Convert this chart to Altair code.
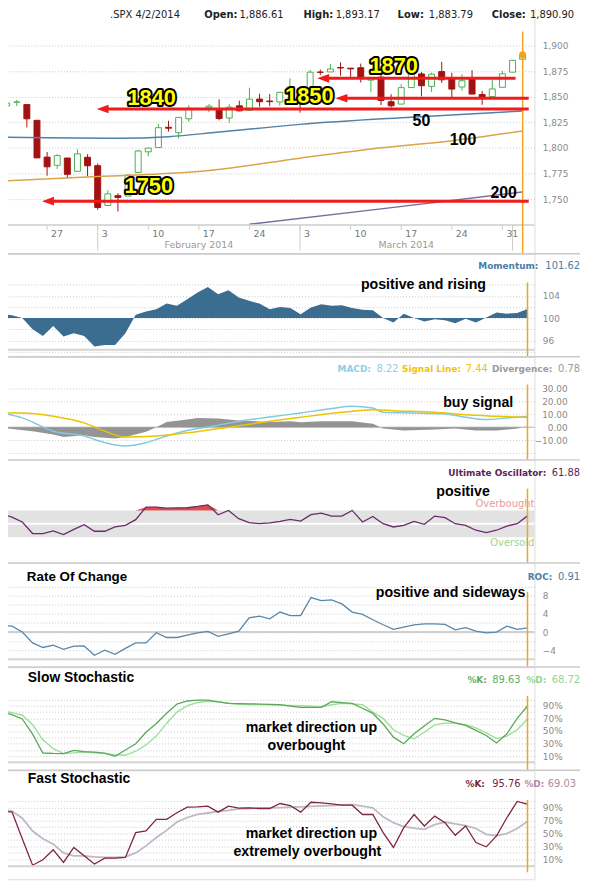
import altair as alt
import numpy as np
import pandas as pd

# ------------------------------------------------------------------ data
trade_dates = [
    "2014-01-21", "2014-01-22", "2014-01-23", "2014-01-24", "2014-01-27", "2014-01-28",
    "2014-01-29", "2014-01-30", "2014-01-31", "2014-02-03", "2014-02-04", "2014-02-05",
    "2014-02-06", "2014-02-07", "2014-02-10", "2014-02-11", "2014-02-12", "2014-02-13",
    "2014-02-14", "2014-02-18", "2014-02-19", "2014-02-20", "2014-02-21", "2014-02-24",
    "2014-02-25", "2014-02-26", "2014-02-27", "2014-02-28", "2014-03-03", "2014-03-04",
    "2014-03-05", "2014-03-06", "2014-03-07", "2014-03-10", "2014-03-11", "2014-03-12",
    "2014-03-13", "2014-03-14", "2014-03-17", "2014-03-18", "2014-03-19", "2014-03-20",
    "2014-03-21", "2014-03-24", "2014-03-25", "2014-03-26", "2014-03-27", "2014-03-28",
    "2014-03-31", "2014-04-01", "2014-04-02",
]
opens = [1841.05, 1844.71, 1842.29, 1826.96, 1791.03, 1783.00, 1790.15, 1777.17, 1790.88,
         1782.68, 1743.82, 1753.38, 1752.99, 1776.01, 1796.20, 1800.45, 1820.12, 1814.82,
         1828.46, 1839.03, 1838.22, 1829.24, 1841.07, 1836.78, 1847.66, 1845.79, 1844.90,
         1855.12, 1857.68, 1849.23, 1874.05, 1874.18, 1878.52, 1877.86, 1878.26, 1866.15,
         1869.06, 1845.07, 1842.81, 1858.92, 1872.25, 1860.09, 1874.53, 1867.67, 1859.48,
         1867.09, 1852.11, 1850.07, 1859.16, 1873.96, 1886.61]
highs = [1849.31, 1846.87, 1842.29, 1826.96, 1795.98, 1793.87, 1790.15, 1798.77, 1793.88,
         1784.83, 1758.73, 1755.79, 1774.06, 1798.03, 1799.94, 1823.54, 1826.55, 1830.25,
         1841.65, 1842.87, 1847.50, 1842.79, 1846.13, 1858.71, 1852.91, 1852.65, 1854.53,
         1867.92, 1857.68, 1876.23, 1876.53, 1881.94, 1883.57, 1877.87, 1882.35, 1868.38,
         1874.40, 1852.44, 1862.30, 1873.76, 1874.14, 1873.49, 1883.97, 1873.34, 1871.87,
         1875.92, 1855.55, 1866.63, 1875.18, 1885.84, 1893.17]
lows = [1832.38, 1840.88, 1820.06, 1790.29, 1772.88, 1779.49, 1770.45, 1777.17, 1772.26,
        1739.66, 1743.82, 1737.92, 1752.99, 1776.01, 1791.83, 1800.41, 1815.97, 1809.22,
        1825.59, 1835.01, 1826.99, 1824.58, 1835.60, 1836.78, 1840.19, 1840.66, 1841.13,
        1847.67, 1834.44, 1849.23, 1871.11, 1874.18, 1870.56, 1867.04, 1863.88, 1854.38,
        1841.86, 1839.57, 1842.81, 1858.92, 1850.35, 1854.63, 1863.46, 1849.69, 1855.96,
        1852.56, 1842.11, 1850.07, 1859.16, 1873.96, 1883.79]
closes = [1843.80, 1844.86, 1828.46, 1790.29, 1781.56, 1792.50, 1774.20, 1794.19, 1782.59,
          1741.89, 1755.20, 1751.64, 1773.43, 1797.02, 1799.84, 1819.75, 1819.26, 1829.83,
          1838.63, 1840.76, 1828.75, 1839.78, 1836.25, 1847.61, 1845.12, 1845.16, 1854.29,
          1859.45, 1845.73, 1873.91, 1873.81, 1877.03, 1878.04, 1877.17, 1867.63, 1868.20,
          1846.34, 1841.13, 1858.83, 1872.25, 1860.77, 1872.01, 1866.52, 1857.44, 1865.62,
          1852.56, 1849.04, 1857.62, 1872.34, 1885.52, 1890.90]

# moving averages
ma50_dates = ["2014-01-21", "2014-01-27", "2014-02-05", "2014-02-12", "2014-02-19",
              "2014-03-03", "2014-03-18", "2014-04-02"]
ma50 = [1810.5, 1810.0, 1809.5, 1811.0, 1815.5, 1823.0, 1830.0, 1836.0]
ma100_dates = ["2014-01-21", "2014-02-03", "2014-02-18", "2014-03-03", "2014-03-12",
               "2014-03-24", "2014-04-02"]
ma100 = [1768.0, 1772.0, 1778.0, 1790.0, 1799.0, 1807.0, 1816.5]
ma200_dates = ["2014-02-24", "2014-03-13", "2014-04-02"]
ma200 = [1725.5, 1740.5, 1757.0]

# weekday positions Jan 21 .. Apr 2 (52 slots)
day_dates = pd.bdate_range("2014-01-21", "2014-04-02").strftime("%Y-%m-%d").tolist()
momentum = [100.8, 100.5, 100.0, 98.0, 96.8, 98.6, 96.7, 97.3, 96.8, 94.9, 95.2, 95.2, 97.3,
            100.6, 101.2, 101.6, 102.6, 102.2, 103.4, 104.6, 105.6, 104.3, 105.0, 103.7,
            103.1, 102.6, 101.6, 102.0, 101.8, 100.7, 101.9, 102.5, 102.2, 102.3, 101.8,
            101.5, 101.4, 100.0, 99.2, 100.8, 100.0, 99.4, 99.8, 99.6, 99.1, 99.9, 99.2,
            100.1, 101.0, 100.8, 100.9, 101.62]
ult_osc = [65.1, 60.0, 52.7, 35.5, 35.5, 39.4, 34.0, 41.6, 48.8, 38.9, 38.9, 45.3, 47.8,
           56.2, 74.9, 74.9, 73.4, 73.8, 74.0, 76.0, 78.4, 63.6, 70.0, 57.7, 51.8, 50.2,
           51.3, 53.7, 56.7, 54.2, 63.6, 66.1, 61.6, 61.6, 70.0, 52.7, 61.1, 50.2, 45.3,
           47.8, 53.7, 49.3, 61.6, 59.1, 50.2, 47.8, 40.4, 37.0, 40.4, 46.7, 50.2, 61.88]
roc = [1.5, 1.3, 0.0, -2.4, -3.4, -2.9, -3.8, -3.1, -3.05, -5.1, -4.0, -4.9, -3.6, -2.4,
       -2.4, -0.15, -1.2, -1.2, -0.7, -0.2, 0.15, -0.95, -0.4, 0.2, 3.1, 3.5, 2.9, 4.4, 3.6,
       3.6, 7.6, 6.9, 7.1, 6.2, 4.4, 3.9, 2.7, 1.6, 0.6, 1.1, 1.6, 1.8, 1.8, 1.7, 0.5, 0.95,
       0.2, -0.2, 0.0, 1.3, 0.6, 0.91]
slow_k = [80, 76, 69, 45, 15.2, 14.5, 14.2, 19.4, 17.5, 16.5, 15.2, 10, 20, 29.9, 48, 62,
          78, 92.6, 97.5, 98.9, 99, 96, 93.7, 93.3, 93, 92.7, 92.3, 91.6, 89.5, 87.4, 87.4,
          87.4, 96.3, 95, 93.7, 86, 78, 61.2, 40.3, 29.9, 45.6, 58, 70.1, 67.5, 63, 59, 51,
          43, 31, 45.6, 70, 89.63]
slow_d = [82, 79, 75, 60, 36.1, 22, 14.2, 15.5, 16.8, 15.5, 14.2, 12.5, 11.6, 18, 28, 42,
          62, 80, 90, 95.2, 97, 96.5, 94, 92.4, 92, 91.7, 91.4, 91, 90.5, 90, 89.2, 88.4,
          91.5, 93.7, 93, 91.6, 80, 70, 52, 43, 37.7, 48, 59.7, 62.5, 62.5, 60, 55, 47, 38,
          42, 52, 68.72]
fast_k = [83.8, 83.8, 42, 1, 9.5, 24.9, 5.4, 28.5, 15.6, 2.8, 12, 12, 13, 51.5, 54.1, 72.1,
          72.1, 82.3, 91, 91.5, 92.6, 83.3, 92.6, 89.5, 90, 89, 89, 96.7, 93.6, 83.3, 98.7,
          97.7, 96.2, 94.1, 94.1, 79.7, 79.7, 51.5, 28.5, 59.2, 79.7, 61.8, 77.2, 66.9,
          47.4, 61.8, 36.2, 29.5, 46.4, 74.6, 100, 95.76]
fast_d = [88, 85, 74, 54.1, 42, 33.6, 20, 15.6, 15.6, 14, 13, 13, 14, 20, 31, 44, 55, 68,
          75, 79.7, 82, 84.5, 86, 88.3, 89, 89.7, 90.1, 90.5, 91, 91.5, 92.2, 92.9, 93.6,
          94.6, 95, 92.5, 90, 76, 67, 61, 58.5, 56.7, 64, 68, 65, 62.5, 58, 49, 47, 50, 58,
          69.03]

macd_dates = ["2014-01-21", "2014-01-23", "2014-01-28", "2014-01-31", "2014-02-04",
              "2014-02-06", "2014-02-10", "2014-02-12", "2014-02-14", "2014-02-19",
              "2014-02-21", "2014-02-26", "2014-03-03", "2014-03-06", "2014-03-10",
              "2014-03-12", "2014-03-13", "2014-03-18", "2014-03-21", "2014-03-25",
              "2014-03-27", "2014-03-31", "2014-04-02"]
macd = [11.0, 7.2, -3.1, -6.9, -12.0, -14.6, -12.0, -6.9, -2.6, 1.5, 4.6, 7.9, 11.0, 14.4,
        16.2, 14.9, 11.5, 11.0, 10.3, 7.7, 5.9, 7.2, 8.22]
signal_dates = ["2014-01-21", "2014-01-23", "2014-01-28", "2014-01-31", "2014-02-04",
                "2014-02-06", "2014-02-11", "2014-02-14", "2014-02-20", "2014-02-26",
                "2014-03-03", "2014-03-07", "2014-03-12", "2014-03-14", "2014-03-20",
                "2014-03-25", "2014-03-28", "2014-04-02"]
signal = [11.0, 11.0, 8.5, 3.3, -3.1, -7.7, -6.9, -4.4, 0.0, 4.6, 7.7, 11.5, 13.6, 12.8,
          11.5, 9.7, 8.5, 7.44]
div_dates = ["2014-01-21", "2014-01-24", "2014-01-28", "2014-01-29", "2014-01-31",
             "2014-02-03", "2014-02-05", "2014-02-06", "2014-02-10", "2014-02-11",
             "2014-02-12", "2014-02-14", "2014-02-17", "2014-02-19", "2014-02-21",
             "2014-02-26", "2014-02-28", "2014-03-03", "2014-03-05", "2014-03-10",
             "2014-03-12", "2014-03-13", "2014-03-17", "2014-03-20", "2014-03-24",
             "2014-03-26", "2014-03-28", "2014-04-01", "2014-04-02"]
divergence = [-0.4, -3.1, -5.6, -7.7, -6.2, -7.7, -8.7, -7.7, -3.6, 0.0, 4.1, 5.9, 7.2,
              6.7, 5.1, 4.1, 4.6, 3.8, 4.6, 4.6, 2.6, -1.0, -2.6, -1.8, -1.0, -2.6, -2.6,
              -1.0, 0.78]

week_ticks = ["2014-01-27", "2014-02-03", "2014-02-10", "2014-02-17", "2014-02-24",
              "2014-03-03", "2014-03-10", "2014-03-17", "2014-03-24", "2014-03-31"]
month_starts = ["2014-02-03", "2014-03-03", "2014-04-01"]
month_names = ["February 2014", "March 2014"]

# support / resistance arrows (price level, from / to in trading-day units)
arrow_levels = [1868.0, 1848.5, 1838.0, 1748.0]
arrow_from = [21.7, 23.5, -0.1, -5.5]
arrow_to = [41.3, 42.6, 42.6, 42.6]

assert len(trade_dates) == len(opens) == len(highs) == len(lows) == len(closes) == 51
for s in (momentum, ult_osc, roc, slow_k, slow_d, fast_k, fast_d):
    assert len(s) == len(day_dates) == 52

# ------------------------------------------------------------------ helpers
SANS = "DejaVu Sans, Verdana, sans-serif"
HEAVY = "Liberation Sans, Arial, sans-serif"
GREEN = "#4caf50"
RED = "#a31212"
ORANGE = "#f5a31a"
ARROW = "#ee1c1c"
W = 537
XS = alt.Scale(domain=[-8.962, 42.673], nice=False, zero=False)
ONE = pd.DataFrame({"k": [0]})


def slot(dates):
    d = pd.to_datetime(pd.Series(dates)).values.astype("datetime64[D]")
    return np.busday_count(np.datetime64("2014-02-03"), d)


def X(field="slot"):
    return alt.X(f"{field}:Q", scale=XS, axis=None)


AX = dict(orient="right", grid=True, gridDash=[1, 2], gridColor="#c8c8c8", domain=False,
          ticks=False, tickSize=0, labelFont=SANS, labelFontSize=9,
          labelColor="#8a8a8a", labelBaseline="middle",
          labelFlush=False, labelOverlap=False, labelBound=False, title="")


def txt(s, x, y, size=10, color="#000", weight="normal", align="left", font=SANS, **kw):
    return alt.Chart(ONE).mark_text(text=s, fontSize=size, color=color, fontWeight=weight,
                                    align=align, baseline="middle", font=font, **kw
                                    ).encode(x=alt.value(x), y=alt.value(y))


def hrule(y, x0=0, x1=W, color="#cccccc", width=1.5):
    return alt.Chart(ONE).mark_rule(color=color, strokeWidth=width).encode(
        x=alt.value(x0), x2=alt.value(x1), y=alt.value(y))


def outlined(s, x, y, size=22):
    return [txt(s, x, y, size=size, color="#000", weight="bold", align="center", font=HEAVY,
                stroke="#000", strokeWidth=4, strokeJoin="round"),
            txt(s, x, y, size=size, color="#ffff00", weight="bold", align="center", font=HEAVY)]


def series(dates, vals):
    df = pd.DataFrame({"date": dates, "v": vals})
    df["slot"] = slot(df["date"])
    return df


# ------------------------------------------------------------------ price panel
cdf = pd.DataFrame({"date": trade_dates, "open": opens, "high": highs, "low": lows,
                    "close": closes})
cdf["slot"] = slot(cdf["date"])
cdf["dir"] = np.where(cdf["close"] >= cdf["open"], "up", "down")
last_c = cdf.tail(1)
YP = alt.Scale(domain=[1696.77, 1939.68], nice=False, zero=False)
PAX = alt.Axis(values=[1750, 1775, 1800, 1825, 1850, 1875, 1900], format=",d",
               labelAlign="left", labelPadding=8, **AX)


def YPr(field):
    return alt.Y(f"{field}:Q", scale=YP, axis=PAX)


wicks = alt.Chart(cdf).mark_rule(strokeWidth=1, clip=True).encode(
    x=X(), y=YPr("low"), y2="high:Q",
    color=alt.Color("dir:N", scale=alt.Scale(domain=["up", "down"], range=[GREEN, RED]),
                    legend=None))
bodies = alt.Chart(cdf).mark_bar(size=6, strokeWidth=1, clip=True).encode(
    x=X(), y=YPr("open"), y2="close:Q",
    fill=alt.Fill("dir:N", scale=alt.Scale(domain=["up", "down"], range=["#ffffff", RED]),
                  legend=None),
    stroke=alt.Stroke("dir:N", scale=alt.Scale(domain=["up", "down"], range=[GREEN, RED]),
                      legend=None))


def ma_line(dates, vals, color):
    return alt.Chart(series(dates, vals)).mark_line(
        color=color, strokeWidth=1.5, interpolate="monotone", clip=True).encode(
        x=X(), y=YPr("v"))


adf = pd.DataFrame({"level": arrow_levels, "start": arrow_from, "end": arrow_to})
adf["line_start"] = adf["start"] + 0.8
arrow_lines = alt.Chart(adf).mark_rule(color=ARROW, strokeWidth=3).encode(
    x=alt.X("line_start:Q", scale=XS, axis=None), x2="end:Q", y=YPr("level"))
arrow_heads = alt.Chart(adf).mark_point(shape="M0,0L3,-1.1L3,1.1Z", filled=True, size=64,
                                        color=ARROW, opacity=1, strokeWidth=0).encode(
    x=alt.X("start:Q", scale=XS, axis=None), y=YPr("level"))

tdf = pd.DataFrame({"date": week_ticks})
tdf["slot"] = slot(tdf["date"])
tdf["label"] = pd.to_datetime(tdf["date"]).dt.day.astype(str)
mdf = pd.DataFrame({"date": month_starts})
mdf["slot"] = slot(mdf["date"])
mlab = pd.DataFrame({"name": month_names,
                     "slot": (mdf["slot"].values[:-1] + mdf["slot"].values[1:]) / 2})

x_ticks = alt.Chart(tdf).mark_rule(color="#cccccc").encode(
    x=X(), y=alt.value(222), y2=alt.value(227))
x_labels = alt.Chart(tdf).mark_text(align="left", dx=4, baseline="middle", font=SANS,
                                    fontSize=9.5, color="#777777").encode(
    x=X(), y=alt.value(231), text="label:N")
m_ticks = alt.Chart(mdf).mark_rule(color="#cccccc").encode(
    x=X(), y=alt.value(222), y2=alt.value(248))
m_labels = alt.Chart(mlab).mark_text(align="center", baseline="middle", font=SANS,
                                     fontSize=9.5, color="#999999").encode(
    x=X(), y=alt.value(242), text="name:N")

now_p = alt.Chart(last_c).mark_rule(color=ORANGE, strokeWidth=1.5).encode(
    x=X(), y=alt.value(27), y2=alt.value(251))
now_dot = alt.Chart(last_c).mark_point(filled=True, size=50, color=ORANGE, opacity=1).encode(
    x=X(), y=YPr("close"))

price_layers = [
    wicks, bodies,
    ma_line(ma50_dates, ma50, "#4f82aa"),
    ma_line(ma100_dates, ma100, "#d9a548"),
    ma_line(ma200_dates, ma200, "#7a6a9c"),
    hrule(222), x_ticks, m_ticks, x_labels, m_labels,
    now_p,
    arrow_lines, arrow_heads,
    *outlined("1870", 395, 62), *outlined("1850", 310, 92),
    *outlined("1840", 151, 94), *outlined("1750", 148, 183),
    txt("50", 423, 117, size=16, weight="bold", align="center", font=HEAVY),
    txt("100", 465, 136, size=16, weight="bold", align="center", font=HEAVY),
    txt("200", 506, 190, size=16, weight="bold", align="center", font=HEAVY),
    now_dot,
    txt(".SPX 4/2/2014", 109, 10, color="#222"),
    txt("Open:", 204, 10, weight="bold", color="#222"),
    txt("1,886.61", 284, 10, align="right", color="#222"),
    txt("High:", 304, 10, weight="bold", color="#222"),
    txt("1,893.17", 381, 10, align="right", color="#222"),
    txt("Low:", 399, 10, weight="bold", color="#222"),
    txt("1,883.79", 475, 10, align="right", color="#222"),
    txt("Close:", 494, 10, weight="bold", color="#222"),
    txt("1,890.90", 577, 10, align="right", color="#222"),
]
price_panel = alt.layer(*price_layers).properties(width=W, height=251)

# ------------------------------------------------------------------ indicator panels
ddf = pd.DataFrame({"date": day_dates, "mom": momentum, "uo": ult_osc, "roc": roc,
                    "sk": slow_k, "sd": slow_d, "fk": fast_k, "fd": fast_d})
ddf["slot"] = slot(ddf["date"])
last_d = ddf.tail(1)


def now_rule(y0, y1):
    return alt.Chart(last_d).mark_rule(color=ORANGE, strokeWidth=1.5).encode(
        x=X(), y=alt.value(y0), y2=alt.value(y1))


def ann(s, x, y, align="left", size=14.3):
    return txt(s, x, y, size=size, weight="bold", align=align, font=HEAVY)


LEFT = dict(labelAlign="left", labelPadding=8)

# Momentum
YM = alt.Scale(domain=[93.067, 111.556], nice=False, zero=False)
MAX = alt.Axis(values=[94, 96, 98, 100, 102, 104, 106],
               labelExpr="datum.value % 4 == 0 ? datum.label : ''", **LEFT, **AX)
mom_area = alt.Chart(ddf).mark_area(color="#3b6d91", clip=True).encode(
    x=X(), y=alt.Y("mom:Q", scale=YM, axis=MAX), y2=alt.datum(100))
mom_panel = alt.layer(
    hrule(0, 0, 583), mom_area, hrule(97, color="#d4d4d4", width=2), now_rule(29, 104),
    txt("Momentum:", 541, 12, size=9, weight="bold", align="right", color="#4a7ea5"),
    txt("101.62", 583, 12, align="right", color="#4a7ea5"),
    ann("positive and rising", 362, 32),
).properties(width=W, height=104)

# MACD
YD = alt.Scale(domain=[-25.38, 54.62], nice=False, zero=False)
DAX = alt.Axis(values=[-20, -10, 0, 10, 20, 30],
               labelExpr="datum.value < -15 ? '' : format(datum.value, '.2f')",
               labelAlign="right", labelPadding=33, **AX)
hist = alt.Chart(series(div_dates, divergence)).mark_area(
    color="#8e8e8e", opacity=0.95, clip=True).encode(
    x=X(), y=alt.Y("v:Q", scale=YD, axis=DAX), y2=alt.datum(0))
zero_d = alt.Chart(pd.DataFrame({"v": [0]})).mark_rule(color="#cfcfcf", strokeWidth=1.5).encode(
    y=alt.Y("v:Q", scale=YD, axis=DAX))
macd_l = alt.Chart(series(macd_dates, macd)).mark_line(
    color="#80c9de", strokeWidth=1.5, interpolate="monotone", clip=True).encode(
    x=X(), y=alt.Y("v:Q", scale=YD, axis=DAX))
sig_l = alt.Chart(series(signal_dates, signal)).mark_line(
    color="#ecc400", strokeWidth=1.5, interpolate="monotone", clip=True).encode(
    x=X(), y=alt.Y("v:Q", scale=YD, axis=DAX))
macd_panel = alt.layer(
    hrule(0, 0, 583), zero_d, hist, macd_l, sig_l, now_rule(28, 104),
    txt("MACD:", 372, 12, size=9, weight="bold", align="right", color="#8ccfe2"),
    txt("8.22", 400, 12, align="right", color="#8ccfe2"),
    txt("Signal Line:", 463, 12, size=9, weight="bold", align="right", color="#f0c400"),
    txt("7.44", 490, 12, align="right", color="#f0c400"),
    txt("Divergence:", 555, 12, size=9, weight="bold", align="right", color="#9a9a9a"),
    txt("0.78", 583, 12, align="right", color="#9a9a9a"),
    ann("buy signal", 445, 47),
).properties(width=W, height=104)

# Ultimate Oscillator
YU = alt.Scale(domain=[-8.52, 145.56], nice=False, zero=False)
band = alt.Chart(pd.DataFrame({"lo": [30], "hi": [70]})).mark_rect(color="#e2e2e2").encode(
    x=alt.value(0), x2=alt.value(W), y=alt.Y("hi:Q", scale=YU, axis=None), y2="lo:Q")
mid = alt.Chart(pd.DataFrame({"v": [50]})).mark_rule(color="#ffffff", strokeWidth=2).encode(
    y=alt.Y("v:Q", scale=YU, axis=None))
ob_area = alt.Chart(ddf).transform_calculate(ob="max(datum.uo, 70)").mark_area(
    color="#dd4c4c", clip=True).encode(
    x=X(), y=alt.Y("ob:Q", scale=YU, axis=None), y2=alt.datum(70))
uo_l = alt.Chart(ddf).mark_line(color="#6a2b6a", strokeWidth=1.3, clip=True).encode(
    x=X(), y=alt.Y("uo:Q", scale=YU, axis=None))
uo_panel = alt.layer(
    hrule(0, 0, 583), band, mid, ob_area, uo_l, now_rule(29, 104),
    txt("Overbought", W, 45, size=10, align="right", color="#e79a9a"),
    txt("Oversold", W, 84, size=10, align="right", color="#9fd38f"),
    txt("Ultimate Oscillator:", 549, 13, size=9, weight="bold", align="right", color="#5a1f5a"),
    txt("61.88", 583, 13, align="right", color="#5a1f5a"),
    ann("positive", 438, 32),
).properties(width=W, height=104)

# Rate of change
YR = alt.Scale(domain=[-7.71, 15.2], nice=False, zero=False)
RAX = alt.Axis(values=[-6, -4, -2, 0, 2, 4, 6, 8, 10],
               labelExpr="datum.value % 4 == 0 ? datum.label : ''", **LEFT, **AX)
roc_l = alt.Chart(ddf).mark_line(color="#5887ab", strokeWidth=1.3, clip=True).encode(
    x=X(), y=alt.Y("roc:Q", scale=YR, axis=RAX))
zero_r = alt.Chart(pd.DataFrame({"v": [0]})).mark_rule(color="#d0d0d0", strokeWidth=2).encode(
    y=alt.Y("v:Q", scale=YR, axis=RAX))
roc_panel = alt.layer(
    hrule(0, 0, 583), zero_r, roc_l, hrule(97, color="#d4d4d4", width=2), now_rule(29, 105),
    txt("Rate Of Change", 25, 14, size=13.5, weight="bold", font=HEAVY),
    txt("ROC:", 555, 14, size=9, weight="bold", align="right", color="#4a7ea5"),
    txt("0.91", 583, 14, align="right", color="#4a7ea5"),
    ann("positive and sideways", 377, 30),
).properties(width=W, height=105)

# Slow stochastic
STO = dict(values=list(range(0, 101, 10)),
           labelExpr="datum.value % 20 == 10 ? datum.value + '%' : ''", **LEFT, **AX)
SAX = alt.Axis(**STO)
YSL = alt.Scale(domain=[-11.96, 151.18], nice=False, zero=False)
sd_l = alt.Chart(ddf).mark_line(color="#9be09b", strokeWidth=1.4, clip=True).encode(
    x=X(), y=alt.Y("sd:Q", scale=YSL, axis=SAX))
sk_l = alt.Chart(ddf).mark_line(color="#5aa85a", strokeWidth=1.3, clip=True).encode(
    x=X(), y=alt.Y("sk:Q", scale=YSL, axis=SAX))
slow_panel = alt.layer(
    hrule(0, 0, 583), sd_l, sk_l, hrule(96, color="#d4d4d4", width=2), now_rule(29, 104),
    txt("Slow Stochastic", 26, 11, size=14, weight="bold", font=HEAVY),
    txt("%K:", 489, 13, size=9, weight="bold", align="right", color="#5fae5f"),
    txt("89.63", 523, 13, align="right", color="#5fae5f"),
    txt("%D:", 549, 13, size=9, weight="bold", align="right", color="#8fd68f"),
    txt("68.72", 583, 13, align="right", color="#8fd68f"),
    ann("market direction up", 312, 61, align="center"),
    ann("overbought", 307, 80, align="center"),
).properties(width=W, height=104)

# Fast stochastic
FAX = alt.Axis(**STO)
YF = alt.Scale(domain=[-20.77, 148.46], nice=False, zero=False)
fd_l = alt.Chart(ddf).mark_line(color="#c0b7c8", strokeWidth=1.8, clip=True).encode(
    x=X(), y=alt.Y("fd:Q", scale=YF, axis=FAX))
fk_l = alt.Chart(ddf).mark_line(color="#7d2642", strokeWidth=1.3, clip=True).encode(
    x=X(), y=alt.Y("fk:Q", scale=YF, axis=FAX))
fast_panel = alt.layer(
    hrule(0, 0, 583), fd_l, fk_l, hrule(97, color="#d4d4d4", width=2), now_rule(30, 103),
    txt("Fast Stochastic", 26, 9, size=14, weight="bold", font=HEAVY),
    txt("%K:", 487, 14, size=9, weight="bold", align="right", color="#7a1f3d"),
    txt("95.76", 523, 14, align="right", color="#7a1f3d"),
    txt("%D:", 547, 14, size=9, weight="bold", align="right", color="#b08aa0"),
    txt("69.03", 579, 14, align="right", color="#b08aa0"),
    ann("market direction up", 312, 64, align="center"),
    ann("extremely overbought", 308, 83, align="center"),
).properties(width=W, height=110)

chart = alt.vconcat(
    price_panel, mom_panel, macd_panel, uo_panel, roc_panel, slow_panel, fast_panel,
    spacing=0, bounds="flush",
).properties(
    padding={"left": -8, "top": -8, "right": 0, "bottom": 0}
).configure_view(strokeWidth=0).configure(background="#ffffff")

chart.save("out.html", embed_options={"renderer": "svg", "actions": False})
